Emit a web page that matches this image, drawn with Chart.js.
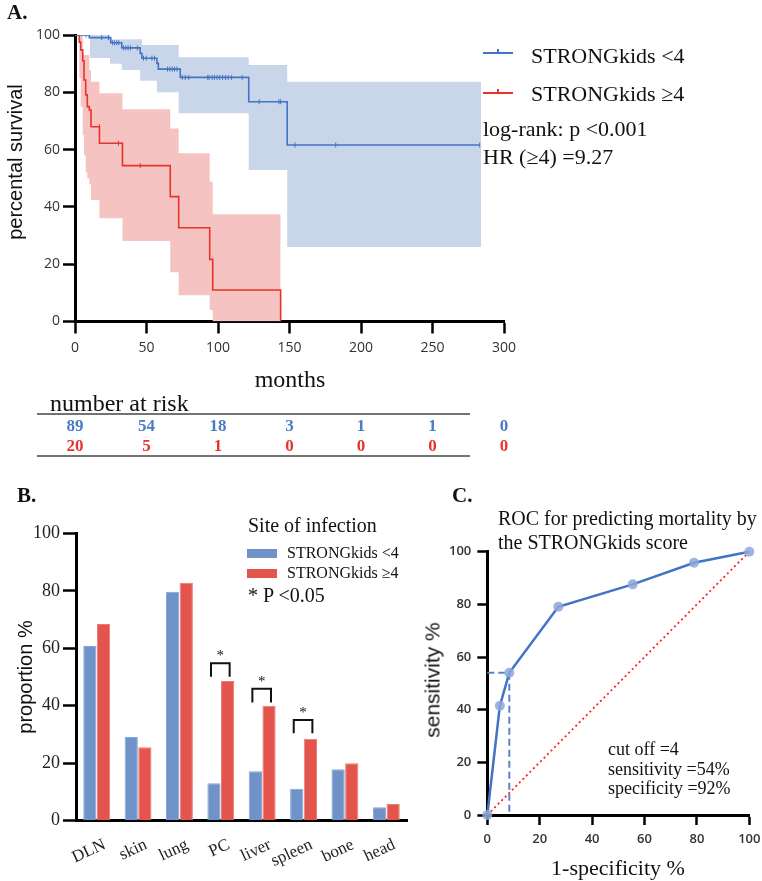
<!DOCTYPE html>
<html>
<head>
<meta charset="utf-8">
<script src="https://cdn.jsdelivr.net/npm/chart.js@4.4.0/dist/chart.umd.min.js"></script>
<style>
  body { margin: 0; background: #fff; }
  #wrap { position: relative; width: 762px; height: 881px; overflow: hidden; font-family: "Liberation Serif", serif; color: #111; }
  canvas { position: absolute; }
  .t { position: absolute; white-space: nowrap; line-height: 1; }
  .rot { transform: translate(-50%, -50%) rotate(-90deg); font-family: "Liberation Sans", sans-serif; }
  .ctr { transform: translate(-50%, -50%); }
  .b { font-weight: bold; }
  .box { position: absolute; }
</style>
</head>
<body>
<div id="wrap">
  <canvas id="km" width="762" height="470" style="left:0;top:0"></canvas>
  <canvas id="bars" width="420" height="411" style="left:0;top:470px"></canvas>
  <canvas id="roc" width="342" height="411" style="left:420px;top:470px"></canvas>

  <!-- panel A text -->
  <div class="t b" style="left:7px;top:2px;font-size:21px">A.</div>
  <div class="t rot" style="left:15px;top:162px;font-size:20px">percental survival</div>
  <div class="t ctr" style="left:290px;top:379px;font-size:24px">months</div>
  <div class="t" style="left:50px;top:391px;font-size:24px">number at risk</div>
  <div class="box" style="left:483px;top:52px;width:30px;height:1.5px;background:#4472c4"></div>
  <div class="box" style="left:497px;top:49px;width:1.5px;height:4px;background:#4472c4"></div>
  <div class="t" style="left:531px;top:45px;font-size:22px">STRONGkids &lt;4</div>
  <div class="box" style="left:483px;top:92px;width:30px;height:1.5px;background:#e8322b"></div>
  <div class="box" style="left:497px;top:89px;width:1.5px;height:4px;background:#e8322b"></div>
  <div class="t" style="left:531px;top:83px;font-size:22px">STRONGkids ≥4</div>
  <div class="t" style="left:483px;top:118px;font-size:22px">log-rank: p &lt;0.001</div>
  <div class="t" style="left:483px;top:146px;font-size:22px">HR (≥4) =9.27</div>

  <!-- panel B text -->
  <div class="t b" style="left:17px;top:485px;font-size:21px">B.</div>
  <div class="t rot" style="left:25px;top:677px;font-size:20px">proportion %</div>
  <div class="t" style="left:248px;top:515px;font-size:20px">Site of infection</div>
  <div class="box" style="left:247px;top:549px;width:30px;height:9px;background:#6f93c9"></div>
  <div class="t" style="left:287px;top:545px;font-size:16px">STRONGkids &lt;4</div>
  <div class="box" style="left:247px;top:569px;width:30px;height:9px;background:#e3544d"></div>
  <div class="t" style="left:287px;top:565px;font-size:16px">STRONGkids ≥4</div>
  <div class="t" style="left:248px;top:585px;font-size:20px">* P &lt;0.05</div>

  <!-- panel C text -->
  <div class="t b" style="left:452px;top:485px;font-size:21px">C.</div>
  <div class="t" style="left:498px;top:508px;font-size:20px">ROC for predicting mortality by</div>
  <div class="t" style="left:498px;top:532px;font-size:20px">the STRONGkids score</div>
  <div class="t rot" style="left:432px;top:680px;font-size:21px">sensitivity %</div>
  <div class="t ctr" style="left:618px;top:868px;font-size:22px">1-specificity %</div>
  <div class="t" style="left:608px;top:740px;font-size:18px;line-height:19.5px">cut off =4<br>sensitivity =54%<br>specificity =92%</div>
</div>

<script>
// ---- A: Kaplan-Meier, months ----
const riskMonths = [0, 50, 100, 150, 200, 250, 300];
const riskLow = [89, 54, 18, 3, 1, 1, 0];
const riskHigh = [20, 5, 1, 0, 0, 0, 0];

const lowT = [0, 10, 25, 32.7, 45.6, 46.8, 57.3, 58.3, 73.6, 121.5, 148.4, 283];
const lowS = [100, 99.1, 97.3, 95.5, 93.6, 91.9, 90.1, 88.1, 85.2, 76.7, 61.6, 61.6];
const highT = [0, 3, 4, 5.4, 6.3, 7.5, 8.6, 10, 11.2, 17.1, 33.2, 66.6, 72.5, 94.2, 96.3, 143.8];
const highS = [100, 97.5, 94.8, 91, 84.3, 79.1, 75, 73.8, 68, 62.2, 54.4, 43.6, 32.7, 21.7, 11, 0];

const lowBandT = [0, 10.5, 24.5, 32.7, 45.6, 46.8, 57.3, 72.5, 121.5, 148.4, 284];
const lowBandUp = [100, 100, 98.5, 98.5, 98.5, 96.5, 96.5, 92.2, 89.5, 83.7, 83.7];
const lowBandLo = [100, 92, 90, 87.8, 84, 84, 80, 72.7, 52.9, 26, 26];
const highBandT = [0, 3, 4, 5.4, 6.3, 7.5, 8.6, 10, 11.2, 17.1, 33.2, 66.6, 72.5, 94.2, 96.3, 143.8];
const highBandUp = [100, 100, 100, 93, 93, 93, 93, 87.8, 83.7, 79.7, 74.1, 67.4, 58.7, 48.8, 37.4, 37.4];
const highBandLo = [100, 85, 75, 65, 58, 52, 50, 48, 42.4, 36, 28.1, 17.2, 9.2, 4, 0, 0];

const lowCensT = [7.7, 18.7, 23.4, 26.2, 27.6, 29.2, 30.6, 33.9, 35.5, 37.1, 38.8, 43.7, 47.9, 49.8, 53.8, 55.6,
  64.7, 66.4, 68, 69.6, 71.3, 75, 77.1, 79.5, 92.8, 93.8, 95.9, 97.5, 99.4, 101.2, 103.2, 105.2, 107.1, 109.5,
  116.9, 128.8, 142.6, 143.8, 153.8, 182.3, 283];
const lowCensS = [100, 99.1, 99.1, 97.3, 97.3, 97.3, 97.3, 95.5, 95.5, 95.5, 95.5, 95.5, 91.9, 91.9, 91.9, 91.9,
  88.1, 88.1, 88.1, 88.1, 88.1, 85.2, 85.2, 85.2, 85.2, 85.2, 85.2, 85.2, 85.2, 85.2, 85.2, 85.2, 85.2, 85.2,
  85.2, 76.7, 76.7, 76.7, 61.6, 61.6, 61.6];
const highCensT = [17.1, 30.4, 45.6];
const highCensS = [68, 62.2, 54.4];

// ---- B: site of infection, % ----
const sites = ["DLN", "skin", "lung", "PC", "liver", "spleen", "bone", "head"];
const siteLow = [60.8, 29.1, 79.7, 13.0, 17.2, 11.1, 17.9, 4.7];
const siteHigh = [68.4, 25.6, 82.8, 48.6, 40.0, 28.5, 20.0, 5.8];
const sigSites = ["PC", "liver", "spleen"];
const sigTop = [54.8, 45.9, 35.0];
const sigLeg = [50.1, 41.1, 30.4];

// ---- C: ROC ----
const rocFpr = [0, 4.8, 8.4, 27.1, 55.5, 78.9, 100];
const rocTpr = [0, 41.5, 54.0, 79.1, 87.6, 95.8, 100];
const cutFpr = 8.4;
const cutTpr = 54;

const BLUE = "#4472c4";
const RED = "#e8322b";
const pts = (xs, ys) => xs.map((x, i) => ({ x, y: ys[i] }));

Chart.defaults.font.family = '"Liberation Serif", serif';
Chart.defaults.color = "#222";

function axisStyle(tickLen) {
  return {
    grid: { display: true, drawOnChartArea: false, drawTicks: true, tickLength: tickLen, tickWidth: 2.5, tickColor: "#000" },
    border: { display: true, color: "#000", width: 3 },
  };
}
const fixW = w => s => { s.width = w; s.paddingTop = 0; s.paddingBottom = 0; };
const fixH = h => s => { s.height = h; s.paddingLeft = 0; s.paddingRight = 0; };

// number at risk table, placed on the months axis
const riskTable = {
  id: "riskTable",
  afterDraw(chart) {
    const { ctx } = chart;
    const x = chart.scales.x;
    ctx.save();
    ctx.strokeStyle = "#444";
    ctx.lineWidth = 1.5;
    [414, 456].forEach(y => {
      ctx.beginPath(); ctx.moveTo(37, y); ctx.lineTo(470, y); ctx.stroke();
    });
    ctx.font = 'bold 17px "Liberation Serif"';
    ctx.textAlign = "center";
    ctx.textBaseline = "middle";
    riskMonths.forEach((m, i) => {
      const px = x.getPixelForValue(m);
      ctx.fillStyle = "#4a7cc6"; ctx.fillText(riskLow[i], px, 427);
      ctx.fillStyle = RED; ctx.fillText(riskHigh[i], px, 447);
    });
    ctx.restore();
  }
};

const clear = "rgba(0,0,0,0)";
new Chart(document.getElementById("km"), {
  type: "line",
  data: {
    datasets: [
      { data: pts(lowT, lowS), stepped: true, borderColor: BLUE, borderWidth: 1.6, pointRadius: 0, fill: false, order: 1 },
      { data: pts(highT, highS), stepped: true, borderColor: RED, borderWidth: 1.6, pointRadius: 0, fill: false, order: 1 },
      { type: "scatter", data: pts(lowCensT, lowCensS), pointStyle: "line", pointRotation: 90, pointRadius: 2.5,
        pointBorderColor: BLUE, pointBorderWidth: 1, order: 0 },
      { type: "scatter", data: pts(highCensT, highCensS), pointStyle: "line", pointRotation: 90, pointRadius: 2.5,
        pointBorderColor: RED, pointBorderWidth: 1, order: 0 },
      { data: pts(lowBandT, lowBandUp), stepped: true, borderColor: clear, pointRadius: 0, fill: "+1", backgroundColor: "#c9d6e9", order: 3 },
      { data: pts(lowBandT, lowBandLo), stepped: true, borderColor: clear, pointRadius: 0, fill: false, order: 3 },
      { data: pts(highBandT, highBandUp), stepped: true, borderColor: clear, pointRadius: 0, fill: "+1", backgroundColor: "#f5c4c2", order: 3 },
      { data: pts(highBandT, highBandLo), stepped: true, borderColor: clear, pointRadius: 0, fill: false, order: 3 },
    ]
  },
  options: {
    responsive: false,
    animation: false,
    devicePixelRatio: 1,
    layout: { padding: { top: 35, right: 258, left: 0, bottom: 0 } },
    plugins: { legend: { display: false }, tooltip: { enabled: false } },
    scales: {
      x: {
        type: "linear", min: 0, max: 300,
        ...axisStyle(12),
        ticks: { stepSize: 50, padding: 6, color: "#333", font: { family: '"Open Sans"', size: 14 } },
        afterFit: fixH(148.5),
      },
      y: {
        min: 0, max: 100,
        ...axisStyle(12),
        ticks: { stepSize: 20, padding: 3, color: "#333", font: { family: '"Open Sans"', size: 14 } },
        afterFit: fixW(75),
      }
    }
  },
  plugins: [riskTable]
});

// significance brackets over paired bars
const brackets = {
  id: "brackets",
  afterDatasetsDraw(chart) {
    const { ctx } = chart;
    const y = chart.scales.y;
    const m0 = chart.getDatasetMeta(0), m1 = chart.getDatasetMeta(1);
    ctx.save();
    ctx.strokeStyle = "#111";
    ctx.lineWidth = 2;
    ctx.fillStyle = "#111";
    ctx.font = '15px "Liberation Serif"';
    ctx.textAlign = "center";
    sigSites.forEach((s, k) => {
      const i = sites.indexOf(s);
      const x0 = m0.data[i].x - 3, x1 = m1.data[i].x + 2;
      const yt = y.getPixelForValue(sigTop[k]), yl = y.getPixelForValue(sigLeg[k]);
      ctx.beginPath();
      ctx.moveTo(x0, yl); ctx.lineTo(x0, yt); ctx.lineTo(x1, yt); ctx.lineTo(x1, yl);
      ctx.stroke();
      ctx.fillText("*", (x0 + x1) / 2, yt - 3);
    });
    ctx.restore();
  }
};

new Chart(document.getElementById("bars"), {
  type: "bar",
  data: {
    labels: sites,
    datasets: [
      { label: "STRONGkids <4", data: siteLow, backgroundColor: "#6f93c9", borderColor: "#86a6d6", borderWidth: 1 },
      { label: "STRONGkids ≥4", data: siteHigh, backgroundColor: "#e3544d", borderColor: "#ee7a73", borderWidth: 1 },
    ]
  },
  options: {
    responsive: false,
    animation: false,
    devicePixelRatio: 1,
    categoryPercentage: 0.66,
    barPercentage: 0.97,
    layout: { padding: { top: 63.3, right: 13, left: 0, bottom: 0 } },
    plugins: { legend: { display: false }, tooltip: { enabled: false } },
    scales: {
      x: {
        grid: { display: false },
        border: { display: true, color: "#000", width: 3 },
        ticks: { autoSkip: false, minRotation: 25, maxRotation: 25, padding: 6, labelOffset: 8, color: "#222", font: { size: 17 } },
        afterFit: fixH(60.3),
      },
      y: {
        min: 0, max: 100,
        ...axisStyle(13),
        ticks: { stepSize: 20, padding: 3, color: "#222", font: { size: 18 } },
        afterFit: fixW(76),
      }
    }
  },
  plugins: [brackets]
});

new Chart(document.getElementById("roc"), {
  type: "scatter",
  data: {
    datasets: [
      { data: pts(rocFpr, rocTpr), showLine: true, borderColor: BLUE, borderWidth: 2.5, pointRadius: 5,
        pointBackgroundColor: "rgba(140,168,218,0.85)", pointBorderWidth: 0, clip: false, order: 0 },
      { data: [{ x: 0, y: cutTpr }, { x: cutFpr, y: cutTpr }, { x: cutFpr, y: 0 }], showLine: true,
        borderColor: "#5b84c8", borderWidth: 2, borderDash: [7, 4], pointRadius: 0, clip: false, order: 1 },
      { data: [{ x: 0, y: 0 }, { x: 100, y: 100 }], showLine: true, borderColor: "#f22", borderWidth: 1.8,
        borderDash: [2, 3], pointRadius: 0, clip: false, order: 2 },
    ]
  },
  options: {
    responsive: false,
    animation: false,
    devicePixelRatio: 1,
    layout: { padding: { top: 81.7, right: 12.7, left: 0, bottom: 0 } },
    plugins: { legend: { display: false }, tooltip: { enabled: false } },
    scales: {
      x: {
        type: "linear", min: 0, max: 100,
        ...axisStyle(10),
        ticks: { stepSize: 20, padding: 6, color: "#333", font: { family: '"Open Sans"', size: 13, weight: "600" } },
        afterFit: fixH(66),
      },
      y: {
        min: 0, max: 100,
        ...axisStyle(10),
        ticks: { stepSize: 20, padding: 6, color: "#333", font: { family: '"Open Sans"', size: 13, weight: "600" } },
        afterFit: fixW(67.3),
      }
    }
  }
});
</script>
</body>
</html>
